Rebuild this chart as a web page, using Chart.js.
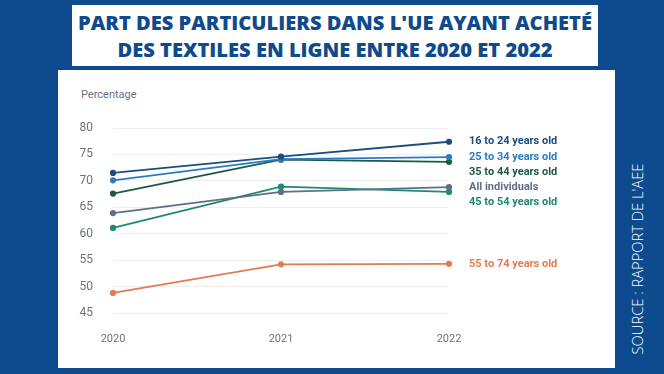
<!DOCTYPE html>
<html>
<head>
<meta charset="utf-8">
<script src="https://cdn.jsdelivr.net/npm/chart.js@4.4.1/dist/chart.umd.min.js"></script>
<style>
  html, body { margin: 0; padding: 0; }
  body { width: 664px; height: 374px; background: #0d4a8e; position: relative; overflow: hidden; font-family: Roboto, sans-serif; }
  #title { position: absolute; left: 72px; top: 5px; width: 526px; height: 61px; background: #fff;
           color: #0f4a8c; font-family: "Open Sans", sans-serif; font-weight: 800; font-size: 20.1px;
           line-height: 27px; text-align: center; padding-top: 4px; box-sizing: border-box; }
  #panel { position: absolute; left: 58px; top: 70px; width: 557px; height: 298px; background: #fff; }
  #ylab { position: absolute; left: 23px; top: 18px; font-size: 11px; color: #6b7280; }
  #source { position: absolute; left: 637px; top: 259px; transform: translate(-50%, -50%) rotate(-90deg);
            white-space: nowrap; color: #fff; font-family: "Open Sans", sans-serif; font-weight: 300; font-size: 14.7px; }
  canvas { position: absolute; left: 0; top: 0; }
</style>
</head>
<body>
<div id="title">PART DES PARTICULIERS DANS L'UE AYANT ACHETÉ<br>DES TEXTILES EN LIGNE ENTRE 2020 ET 2022</div>
<div id="panel">
  <div id="ylab">Percentage</div>
  <canvas id="chart" width="557" height="298"></canvas>
</div>
<div id="source">SOURCE : RAPPORT DE L'AEE</div>
<script>
// années et séries
const years = ['2020', '2021', '2022'];
const groups = ['16 to 24 years old', '25 to 34 years old', '35 to 44 years old', 'All individuals', '45 to 54 years old', '55 to 74 years old'];
const age16to24 = [71.5, 74.6, 77.4];
const age25to34 = [70.1, 74.1, 74.5];
const age35to44 = [67.6, 74.0, 73.6];
const allIndividuals = [63.9, 67.9, 68.8];
const age45to54 = [61.1, 68.9, 67.9];
const age55to74 = [48.8, 54.2, 54.3];
const yTicks = [45, 50, 55, 60, 65, 70, 75, 80];

const colors = ['#1b4d7e', '#2b7cc5', '#1c5a45', '#5f6f87', '#1f8a72', '#e27b52'];
const series = [age16to24, age25to34, age35to44, allIndividuals, age45to54, age55to74];

// étiquettes à droite des lignes
const endLabels = {
    id: 'endLabels',
    afterDatasetsDraw(chart) {
        const c = chart.ctx;
        const y = chart.scales.y;
        let items = chart.data.datasets.map((ds, i) => ({
            text: ds.label, color: ds.borderColor,
            y: y.getPixelForValue(ds.data[ds.data.length - 1])
        }));
        items.sort((a, b) => a.y - b.y);
        for (let i = 1; i < items.length; i++) {
            if (items[i].y < items[i - 1].y + 15) items[i].y = items[i - 1].y + 15;
        }
        c.save();
        c.font = 'bold 11px Roboto';
        c.textBaseline = 'middle';
        items.forEach(it => {
            c.fillStyle = it.color;
            c.fillText(it.text, chart.chartArea.right + 20, it.y);
        });
        c.restore();
    }
};

new Chart(document.getElementById('chart'), {
    type: 'line',
    data: {
        labels: years,
        datasets: series.map((d, i) => ({
            label: groups[i],
            data: d,
            borderColor: colors[i],
            backgroundColor: colors[i],
            borderWidth: 1.8,
            pointRadius: 2.2,
            pointHoverRadius: 2.2,
            tension: 0
        }))
    },
    options: {
        responsive: false,
        animation: false,
        layout: { padding: { top: 58, right: 166, bottom: 0, left: 0 } },
        plugins: { legend: { display: false }, tooltip: { enabled: false } },
        scales: {
            x: {
                offset: false,
                grid: { display: false },
                border: { display: false },
                ticks: { color: '#6b7280', font: { size: 11, family: 'Roboto' }, padding: 12 },
                afterFit(s) { s.height = 55; }
            },
            y: {
                min: 45, max: 80,
                afterBuildTicks(s) { s.ticks = yTicks.map(v => ({ value: v })); },
                grid: { color: '#efefef', drawTicks: false },
                border: { display: false },
                ticks: { color: '#6b7280', font: { size: 12, family: 'Roboto' }, padding: 20 },
                afterFit(s) { s.width = 55; }
            }
        }
    },
    plugins: [endLabels]
});
</script>
</body>
</html>
